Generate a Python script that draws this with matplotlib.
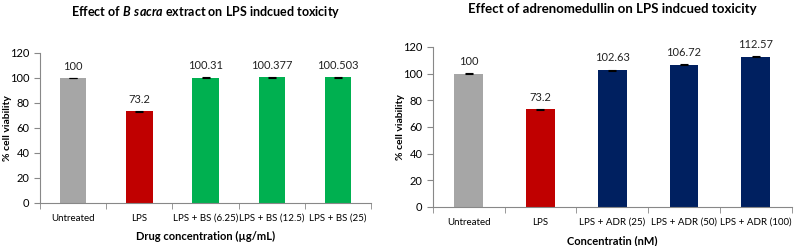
import numpy as np
import matplotlib.pyplot as plt

plt.rcParams['font.family'] = ['Lato', 'DejaVu Sans']
plt.rcParams['mathtext.fontset'] = 'custom'
plt.rcParams['mathtext.bfit'] = 'Lato:italic:bold'
plt.rcParams['mathtext.rm'] = 'Lato:bold'

# Left panel: B sacra
bs_labels = ['Untreated', 'LPS', 'LPS + BS (6.25)', 'LPS + BS (12.5)', 'LPS + BS (25)']
bs_values = [100, 73.2, 100.31, 100.377, 100.503]
bs_errors = [0.3, 0.3, 0.3, 0.3, 0.3]
bs_text = ['100', '73.2', '100.31', '100.377', '100.503']

# Right panel: adrenomedullin
adr_labels = ['Untreated', 'LPS', 'LPS + ADR (25)', 'LPS + ADR (50)', 'LPS + ADR (100)']
adr_values = [100, 73.2, 102.63, 106.72, 112.57]
adr_errors = [0.3, 0.3, 0.3, 0.3, 0.3]
adr_text = ['100', '73.2', '102.63', '106.72', '112.57']

grey, red, green, navy = '#A6A6A6', '#C00000', '#00B050', '#002060'
bs_colors = [grey, red, green, green, green]
adr_colors = [grey, red, navy, navy, navy]

fig = plt.figure(figsize=(7.94, 2.46), dpi=100)
ax1 = fig.add_axes([0.0504, 0.175, 0.417, 0.61])
ax2 = fig.add_axes([0.545, 0.159, 0.452, 0.65])


def draw(ax, labels, values, errors, texts, colors, title, xlabel, title_y, title_size):
    x = np.arange(len(labels))
    ax.bar(x, values, width=0.4, color=colors, yerr=errors,
           error_kw=dict(ecolor='black', elinewidth=0.8, capsize=3, capthick=0.8))
    for xi, v, t in zip(x, values, texts):
        ax.text(xi, v + 5, t, ha='center', va='bottom', fontsize=8, color='#222222')
    ax.set_ylim(0, 120)
    ax.set_yticks(range(0, 121, 20))
    ax.set_xlim(-0.5, len(labels) - 0.5)
    ax.set_xticks(x)
    ax.set_xticklabels(labels, fontsize=7)
    ax.set_xticks(np.arange(-0.5, len(labels), 1), minor=True)
    ax.tick_params(axis='x', which='major', length=0, pad=8)
    ax.tick_params(axis='x', which='minor', length=4, color='#888888')
    ax.tick_params(axis='y', labelsize=8, length=4, color='#888888')
    for s in ['top', 'right']:
        ax.spines[s].set_visible(False)
    for s in ['left', 'bottom']:
        ax.spines[s].set_color('#888888')
    pos = ax.get_position()
    fig.text(pos.x0 - 0.041, pos.y0 + pos.height / 2, '% cell viability', rotation=90,
             ha='center', va='center', fontsize=7.5, fontweight='bold')
    ax.set_xlabel(xlabel, fontsize=8, fontweight='bold', labelpad=6)
    fig.text(pos.x0 + pos.width / 2, title_y, title,
             ha='center', va='center', fontsize=title_size, fontweight='bold')


draw(ax1, bs_labels, bs_values, bs_errors, bs_text, bs_colors,
     r'Effect of $\mathbfit{B\ sacra}$ extract on LPS indcued toxicity',
     'Drug concentration (µg/mL)', 0.951, 9)
draw(ax2, adr_labels, adr_values, adr_errors, adr_text, adr_colors,
     'Effect of adrenomedullin on LPS indcued toxicity',
     'Concentratin (nM)', 0.965, 9.5)

fig.savefig('out.png', dpi=100)
